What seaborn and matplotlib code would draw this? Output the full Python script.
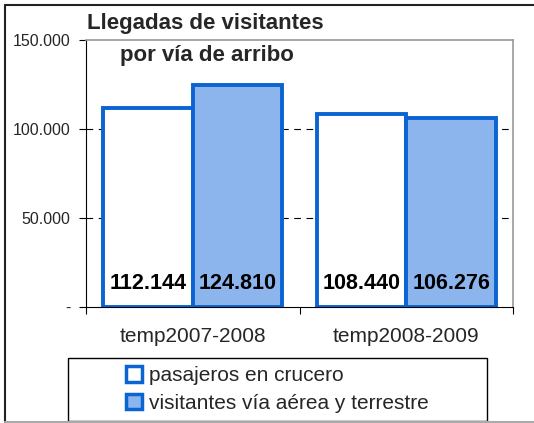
import pandas as pd
import seaborn as sns
import matplotlib.pyplot as plt
from matplotlib.patches import Rectangle, Patch
from matplotlib.lines import Line2D
from matplotlib.ticker import FuncFormatter

# data
temporadas = ["temp2007-2008", "temp2008-2009"]
crucero = [112144, 108440]
aerea_terrestre = [124810, 106276]
series = ["pasajeros en crucero", "visitantes vía aérea y terrestre"]

df = pd.DataFrame({
    "temporada": temporadas * 2,
    "serie": [series[0]] * 2 + [series[1]] * 2,
    "valor": crucero + aerea_terrestre,
})

sns.set_theme(style="white")
plt.rcParams["font.family"] = ["Liberation Sans", "DejaVu Sans"]

blue = "#0a64d2"
fill = "#8cb5ee"

fig = plt.figure(figsize=(5.34, 4.23), dpi=100)
ax = fig.add_axes([0.161, 0.274, 0.800, 0.631])

sns.barplot(data=df, x="temporada", y="valor", hue="serie", order=temporadas,
            hue_order=series, width=0.84, palette=["white", fill], saturation=1,
            edgecolor=blue, linewidth=2.8, ax=ax, legend=False)

# value labels inside the bars near the bottom
for cont in ax.containers:
    for bar in cont:
        v = bar.get_height()
        ax.text(bar.get_x() + bar.get_width() / 2, 13500,
                f"{v:,.0f}".replace(",", "."), ha="center", va="center",
                fontsize=15.5, fontweight="bold", color="black")

ax.set_ylim(0, 150000)
ax.set_xlim(-0.5, 1.5)
ax.set_yticks([0, 50000, 100000, 150000])
ax.yaxis.set_major_formatter(FuncFormatter(lambda v, p: "-" if v == 0 else f"{v:,.0f}".replace(",", ".")))
ax.tick_params(axis="y", labelsize=11.5, length=5, width=0.8, color="black", left=True, pad=6)
ax.set_xticks([0, 1])
ax.set_xticks([-0.5, 0.5, 1.5], minor=True)
ax.tick_params(axis="x", which="major", length=0, labelsize=15, pad=14)
ax.tick_params(axis="x", which="minor", length=5, width=0.8, color="black", bottom=True)
ax.set_xlabel("")
ax.set_ylabel("")

for y in [50000, 100000]:
    ax.axhline(y, color="black", lw=0.8, ls=(0, (6, 5)), zorder=0)

for s in ["top", "right"]:
    ax.spines[s].set_color("#999999")
    ax.spines[s].set_linewidth(1.2)
for s in ["left", "bottom"]:
    ax.spines[s].set_color("black")
    ax.spines[s].set_linewidth(0.8)

# titles
fig.text(0.163, 0.945, "Llegadas de visitantes", fontsize=16, fontweight="bold", va="center")
fig.text(0.225, 0.868, "por vía de arribo", fontsize=16, fontweight="bold", va="center")

# legend with its own box below the plot
fig.patches.append(Rectangle((0.127, 0.005), 0.785, 0.149, transform=fig.transFigure,
                             fill=False, edgecolor="black", linewidth=1.0))
handles = [Patch(facecolor="white", edgecolor=blue, linewidth=2.5),
           Patch(facecolor=fill, edgecolor=blue, linewidth=2.5)]
leg = fig.legend(handles, series, loc="center", bbox_to_anchor=(0.127, 0.005, 0.785, 0.149),
                 fontsize=15, frameon=False, handlelength=0.75,
                 handleheight=0.75, handletextpad=0.35, labelspacing=0.4, borderpad=0.2)

# outer chart frame: dark top and left, grey bottom
fig.add_artist(Line2D([0.010, 0.010], [0.003, 0.988], transform=fig.transFigure, color="#222222", lw=1.5))
fig.add_artist(Line2D([0.010, 1.0], [0.988, 0.988], transform=fig.transFigure, color="#222222", lw=1.5))
fig.add_artist(Line2D([0.010, 1.0], [0.003, 0.003], transform=fig.transFigure, color="#aaaaaa", lw=1.5))

fig.savefig("out.png", dpi=100)
